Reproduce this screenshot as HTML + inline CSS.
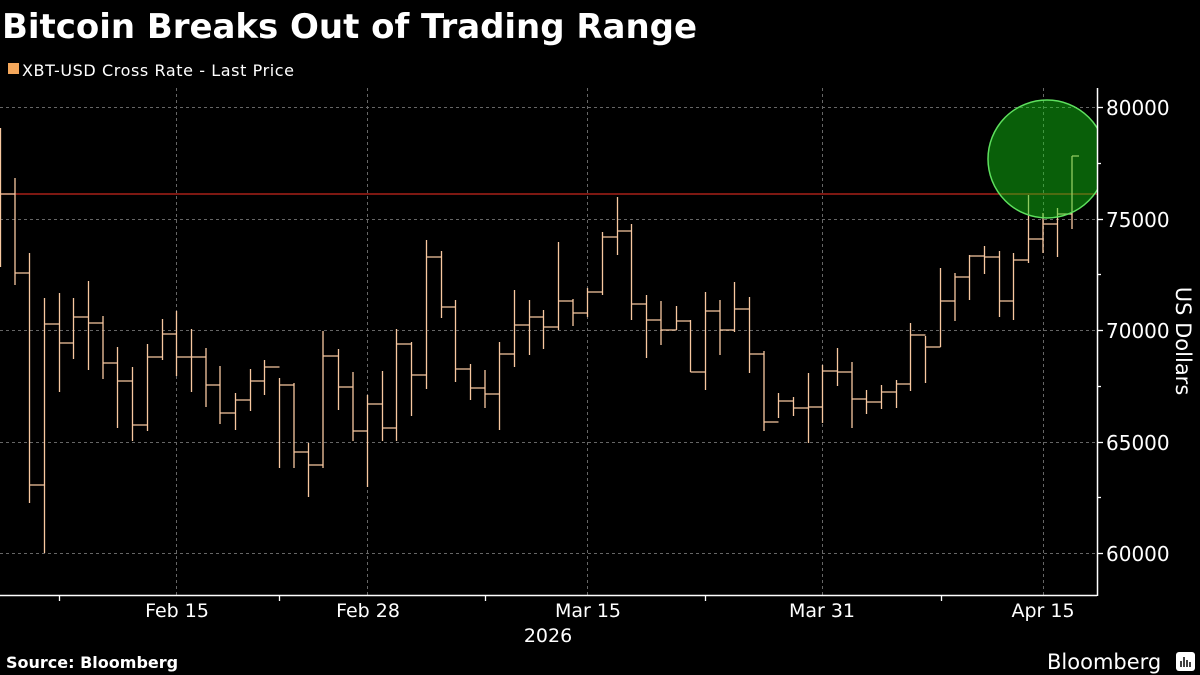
<!DOCTYPE html>
<html><head><meta charset="utf-8"><style>
html,body{margin:0;padding:0;background:#000;}
svg{display:block;}
text{font-family:"DejaVu Sans","Liberation Sans",sans-serif;fill:#fff;}
</style></head><body>
<svg width="1200" height="675" viewBox="0 0 1200 675" xmlns="http://www.w3.org/2000/svg">
<rect width="1200" height="675" fill="#000"/>
<text x="2" y="38" font-size="34" font-weight="bold" textLength="695">Bitcoin Breaks Out of Trading Range</text>
<rect x="8" y="63" width="11" height="11" fill="#f4a75b"/>
<text x="22" y="76" font-size="16" font-family="'DejaVu Sans Condensed','DejaVu Sans',sans-serif" textLength="272">XBT-USD Cross Rate - Last Price</text>
<g stroke="#666" stroke-width="1" stroke-dasharray="3,3">
<line x1="0" y1="107.5" x2="1097" y2="107.5"/>
<line x1="0" y1="219.5" x2="1097" y2="219.5"/>
<line x1="0" y1="330.5" x2="1097" y2="330.5"/>
<line x1="0" y1="442.5" x2="1097" y2="442.5"/>
<line x1="0" y1="553.5" x2="1097" y2="553.5"/>
<line x1="176.5" y1="88" x2="176.5" y2="595"/>
<line x1="367.5" y1="88" x2="367.5" y2="595"/>
<line x1="587.5" y1="88" x2="587.5" y2="595"/>
<line x1="822.5" y1="88" x2="822.5" y2="595"/>
<line x1="1043.5" y1="88" x2="1043.5" y2="595"/>
</g>
<line x1="0" y1="194" x2="1097" y2="194" stroke="#c8261c" stroke-width="1.3"/>
<path fill="none" stroke="#f8c8a0" stroke-width="1.3" d="
M0.5 128V267M0.5 194H15
M15 178V285M15 273H29.5
M29.5 253V503M29.5 485H44.5
M44.5 298V553M44.5 324H59.5
M59.5 293V392M59.5 343H73.5
M73.5 298V359M73.5 317H88.5
M88.5 281V370M88.5 323H103
M103 316V379M103 363H117.5
M117.5 347V428M117.5 381H132.5
M132.5 367V441M132.5 425H147.5
M147.5 344V431M147.5 357H162.5
M162.5 319V360M162.5 334H176.5
M176.5 311V376M176.5 357H191.5
M191.5 329V392M191.5 357H206
M206 348V407M206 385H220
M220 366V424M220 413H235.5
M235.5 393V430M235.5 400H250.5
M250.5 369V411M250.5 381H264.5
M264.5 360V395M264.5 367H279.5
M279.5 378V468M279.5 385H294
M294 383V468M294 452H308.5
M308.5 443V497M308.5 465H323
M323 331V468M323 356H338.5
M338.5 349V410M338.5 387H353
M353 372V441M353 431H367.5
M367.5 395V487M367.5 404H382.5
M382.5 371V441M382.5 428H396.5
M396.5 329V441M396.5 344H411.5
M411.5 342V416M411.5 375H426.5
M426.5 240V389M426.5 257H441.5
M441.5 251V318M441.5 307H455.5
M455.5 300V382M455.5 369H470.5
M470.5 364V400M470.5 388H485
M485 370V408M485 394H499.5
M499.5 342V430M499.5 354H514.5
M514.5 290V367M514.5 325H529.5
M529.5 300V355M529.5 317H543.5
M543.5 310V349M543.5 327H558.5
M558.5 242V330M558.5 301H573
M573 299V326M573 313H587.5
M587.5 288V317M587.5 292H602.5
M602.5 232V295M602.5 237H617.5
M617.5 197V255M617.5 231H631.5
M631.5 224V320M631.5 304H646.5
M646.5 295V358M646.5 320H661
M661 301V345M661 330H676.5
M676.5 306V330M676.5 321H690.5
M690.5 320V372M690.5 372H705.5
M705.5 292V390M705.5 311H720
M720 300V355M720 330H734.5
M734.5 282V332M734.5 309H749.5
M749.5 297V373M749.5 354H764
M764 351V431M764 422H778.5
M778.5 393V418M778.5 401H793.5
M793.5 397V416M793.5 408H808.5
M808.5 373V443M808.5 407H822.5
M822.5 365V423M822.5 371H837.5
M837.5 348V386M837.5 372H852
M852 362V428M852 399H866.5
M866.5 390V414M866.5 402H881.5
M881.5 385V409M881.5 392H896.5
M896.5 380V408M896.5 384H910.5
M910.5 323V391M910.5 335H925.5
M925.5 336V383M925.5 347H940.5
M940.5 268V347M940.5 301H955
M955 273V321M955 277H969.5
M969.5 255V300M969.5 256H984.5
M984.5 246V274M984.5 257H999.5
M999.5 251V317M999.5 301H1013.5
M1013.5 253V320M1013.5 260H1028.5
M1028.5 195V263M1028.5 239H1043
M1043 213V253M1043 224H1057.5
M1057.5 208V257M1057.5 214H1072
M1072 156V229M1072 156H1079"/>
<defs><clipPath id="c"><rect x="0" y="0" width="1097" height="675"/></clipPath></defs>
<circle cx="1047" cy="159" r="59" fill="rgba(20,210,20,0.45)" stroke="#5ee05e" stroke-width="1.5" clip-path="url(#c)"/>
<g stroke="#fff" stroke-width="1.5">
<line x1="0" y1="595.5" x2="1097" y2="595.5"/>
<line x1="1097.5" y1="88" x2="1097.5" y2="596"/>
</g>
<g stroke="#fff" stroke-width="1.3">
<line x1="59.5" y1="595" x2="59.5" y2="601"/>
<line x1="279.5" y1="595" x2="279.5" y2="601"/>
<line x1="485.5" y1="595" x2="485.5" y2="601"/>
<line x1="705.5" y1="595" x2="705.5" y2="601"/>
<line x1="941.5" y1="595" x2="941.5" y2="601"/>
<line x1="1097" y1="107.5" x2="1103" y2="107.5"/>
<line x1="1097" y1="163.5" x2="1101" y2="163.5"/>
<line x1="1097" y1="219.5" x2="1103" y2="219.5"/>
<line x1="1097" y1="274.5" x2="1101" y2="274.5"/>
<line x1="1097" y1="330.5" x2="1103" y2="330.5"/>
<line x1="1097" y1="386.5" x2="1101" y2="386.5"/>
<line x1="1097" y1="442.5" x2="1103" y2="442.5"/>
<line x1="1097" y1="497.5" x2="1101" y2="497.5"/>
<line x1="1097" y1="553.5" x2="1103" y2="553.5"/>
</g>
<g font-size="20" font-family="'DejaVu Sans Condensed','DejaVu Sans',sans-serif">
<text x="1106" y="115">80000</text>
<text x="1106" y="227">75000</text>
<text x="1106" y="338">70000</text>
<text x="1106" y="450">65000</text>
<text x="1106" y="561">60000</text>
</g>
<text transform="translate(1176,341) rotate(90)" text-anchor="middle" font-size="21" font-family="'DejaVu Sans Condensed','DejaVu Sans',sans-serif">US Dollars</text>
<g font-size="19" text-anchor="middle" font-family="'DejaVu Sans Condensed','DejaVu Sans',sans-serif">
<text x="177" y="617">Feb 15</text>
<text x="368" y="617">Feb 28</text>
<text x="588" y="617">Mar 15</text>
<text x="822" y="617">Mar 31</text>
<text x="1043" y="617">Apr 15</text>
<text x="548" y="642">2026</text>
</g>
<text x="6" y="668" font-size="16" font-weight="bold">Source: Bloomberg</text>
<text x="1047" y="669" font-size="21" font-family="'Liberation Sans',sans-serif">Bloomberg</text>
<rect x="1176" y="652" width="19" height="19" rx="3" fill="#fff"/>
<g stroke="#000" stroke-width="1.5"><line x1="1181" y1="667" x2="1181" y2="661"/><line x1="1184" y1="667" x2="1184" y2="657"/><line x1="1187" y1="667" x2="1187" y2="660"/><line x1="1190" y1="667" x2="1190" y2="662"/></g>
</svg>
</body></html>
